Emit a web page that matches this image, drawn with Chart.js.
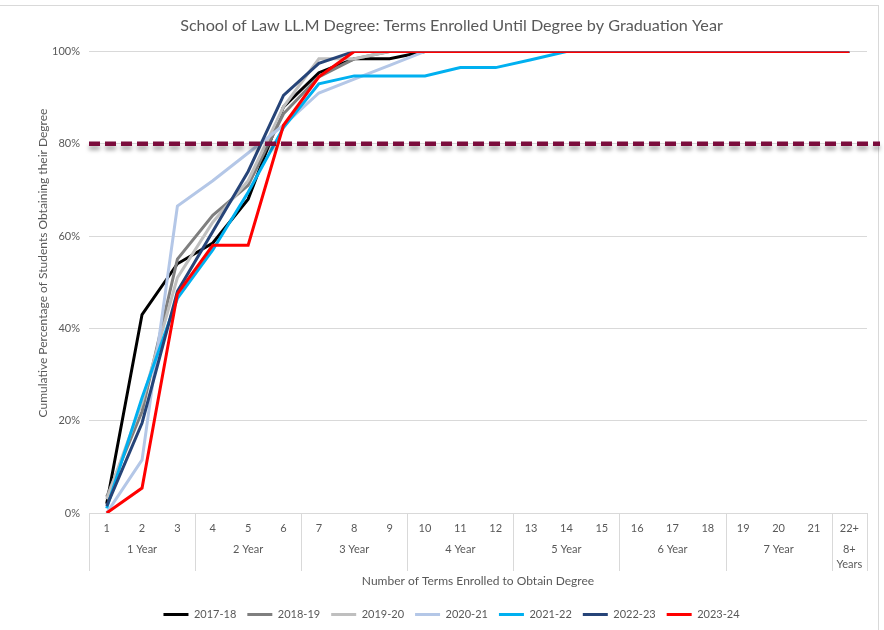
<!DOCTYPE html>
<html>
<head>
<meta charset="utf-8">
<script src="https://cdn.jsdelivr.net/npm/chart.js@4.4.1/dist/chart.umd.min.js"></script>
<style>
  html, body { margin: 0; padding: 0; background: #fff; }
  canvas { display: block; }
</style>
</head>
<body>
<canvas id="lawChart" width="884" height="630"></canvas>
<script>
// terms enrolled (x categories) and the year groups under them
const terms = ['1','2','3','4','5','6','7','8','9','10','11','12','13','14','15','16','17','18','19','20','21','22+'];
const groupLabels = [['1 Year'], ['2 Year'], ['3 Year'], ['4 Year'], ['5 Year'], ['6 Year'], ['7 Year'], ['8+', 'Years']];
const groupSizes = [3, 3, 3, 3, 3, 3, 3, 1];

const yTicks = [0, 20, 40, 60, 80, 100];
const target = 80;

const seriesNames = ['2017-18', '2018-19', '2019-20', '2020-21', '2021-22', '2022-23', '2023-24'];
const seriesColors = ['#000000', '#7f7f7f', '#bfbfbf', '#b4c7e7', '#00b0f0', '#264478', '#ff0000'];

const s2017 = [2, 43, 54, 58.5, 68, 88, 95.4, 98.4, 98.4, 100, 100, 100, 100, 100, 100, 100, 100, 100, 100, 100, 100, 100];
const s2018 = [3.5, 22, 55, 64.5, 71, 86.5, 94.5, 98.4, 100, 100, 100, 100, 100, 100, 100, 100, 100, 100, 100, 100, 100, 100];
const s2019 = [3, 24, 51, 63, 72, 88, 98.4, 98.4, 100, 100, 100, 100, 100, 100, 100, 100, 100, 100, 100, 100, 100, 100];
const s2020 = [0, 11.5, 66.5, 72, 78, 84, 91, 94, 97, 100, 100, 100, 100, 100, 100, 100, 100, 100, 100, 100, 100, 100];
const s2021 = [1, 25, 46.5, 57, 69.5, 83.5, 93, 94.7, 94.7, 94.7, 96.5, 96.5, 98.2, 100, 100, 100, 100, 100, 100, 100, 100, 100];
const s2022 = [1.5, 19.5, 48, 61, 74, 90.5, 97.4, 100, 100, 100, 100, 100, 100, 100, 100, 100, 100, 100, 100, 100, 100, 100];
const s2023 = [0, 5.4, 47.5, 58, 58, 84, 94.5, 100, 100, 100, 100, 100, 100, 100, 100, 100, 100, 100, 100, 100, 100, 100];

const seriesValues = [s2017, s2018, s2019, s2020, s2021, s2022, s2023];

const FONT = 'Lato';
const TEXT = '#595959';
const GRID = '#d9d9d9';

// dashed 80% target line with a soft shadow
const targetLine = {
    id: 'targetLine',
    afterDatasetsDraw(chart) {
        const { ctx, chartArea: { left, right }, scales: { y } } = chart;
        const yy = y.getPixelForValue(target);
        ctx.save();
        ctx.strokeStyle = '#7b0c3c';
        ctx.lineWidth = 4.5;
        ctx.setLineDash([11, 5]);
        ctx.shadowColor = 'rgba(0,0,0,0.35)';
        ctx.shadowBlur = 4;
        ctx.shadowOffsetY = 4;
        ctx.beginPath();
        ctx.moveTo(left, yy);
        ctx.lineTo(right + 13, yy);
        ctx.stroke();
        ctx.restore();
    }
};

// group boxes under the x axis, axis titles and outer border
const extras = {
    id: 'extras',
    beforeDraw(chart) {
        const { ctx } = chart;
        ctx.save();
        ctx.strokeStyle = GRID;
        ctx.lineWidth = 1;
        ctx.strokeRect(-1, 5.5, 879.5, 700);
        ctx.restore();
    },
    afterDraw(chart) {
        const { ctx, chartArea: { left, right, bottom }, scales: { x } } = chart;
        const step = (right - left) / terms.length;
        ctx.save();
        ctx.strokeStyle = GRID;
        ctx.lineWidth = 1;
        ctx.fillStyle = TEXT;
        ctx.font = '11px ' + FONT;
        ctx.textAlign = 'center';
        ctx.textBaseline = 'middle';

        let idx = 0;
        const edges = [left];
        groupSizes.forEach((n, g) => {
            const first = x.getPixelForValue(idx);
            const last = x.getPixelForValue(idx + n - 1);
            const mid = (first + last) / 2;
            groupLabels[g].forEach((t, k) => ctx.fillText(t, mid, bottom + 36 + k * 15));
            idx += n;
            edges.push(last + step / 2);
        });
        edges.forEach(px => {
            const xx = Math.round(px) + 0.5;
            ctx.beginPath();
            ctx.moveTo(xx, bottom);
            ctx.lineTo(xx, bottom + 58);
            ctx.stroke();
        });

        ctx.font = '12px ' + FONT;
        ctx.fillText('Number of Terms Enrolled to Obtain Degree', (left + right) / 2, bottom + 68);

        ctx.translate(43, 263);
        ctx.rotate(-Math.PI / 2);
        ctx.fillText('Cumulative Percentage of Students Obtaining their Degree', 0, 0);
        ctx.restore();
    }
};

new Chart(document.getElementById('lawChart'), {
    type: 'line',
    data: {
        labels: terms,
        datasets: seriesNames.map((name, i) => ({
            label: name,
            data: seriesValues[i],
            borderColor: seriesColors[i],
            backgroundColor: seriesColors[i],
            borderWidth: 3,
            pointRadius: 0,
            pointHoverRadius: 0,
            tension: 0,
            fill: false,
            order: seriesNames.length - 1 - i
        }))
    },
    options: {
        responsive: false,
        animation: false,
        layout: {
            padding: { left: 36, right: 17, top: 6, bottom: 0 }
        },
        plugins: {
            title: {
                display: true,
                text: 'School of Law LL.M Degree: Terms Enrolled Until Degree by Graduation Year',
                color: TEXT,
                font: { family: FONT, size: 16.2, weight: 'normal' },
                padding: { top: 10, bottom: 16 }
            },
            legend: {
                position: 'bottom',
                labels: {
                    color: TEXT,
                    font: { family: FONT, size: 11 },
                    usePointStyle: true,
                    pointStyle: 'line',
                    pointStyleWidth: 25,
                    padding: 11,
                    sort: (a, b) => a.datasetIndex - b.datasetIndex
                }
            },
            tooltip: { enabled: false }
        },
        scales: {
            x: {
                offset: true,
                grid: { display: false, drawTicks: false },
                border: { display: true, color: GRID, width: 1 },
                ticks: {
                    color: TEXT,
                    font: { family: FONT, size: 11 },
                    padding: 9,
                    maxRotation: 0,
                    autoSkip: false
                },
                afterFit: (s) => { s.height = 85; }
            },
            y: {
                min: 0,
                max: 100,
                grid: { color: GRID, drawTicks: false },
                border: { display: false },
                afterBuildTicks: (s) => { s.ticks = yTicks.map(v => ({ value: v })); },
                ticks: {
                    color: TEXT,
                    font: { family: FONT, size: 11 },
                    padding: 9,
                    callback: (v) => v + '%'
                },
                afterFit: (s) => { s.width = 53; }
            }
        }
    },
    plugins: [targetLine, extras]
});
</script>
</body>
</html>
